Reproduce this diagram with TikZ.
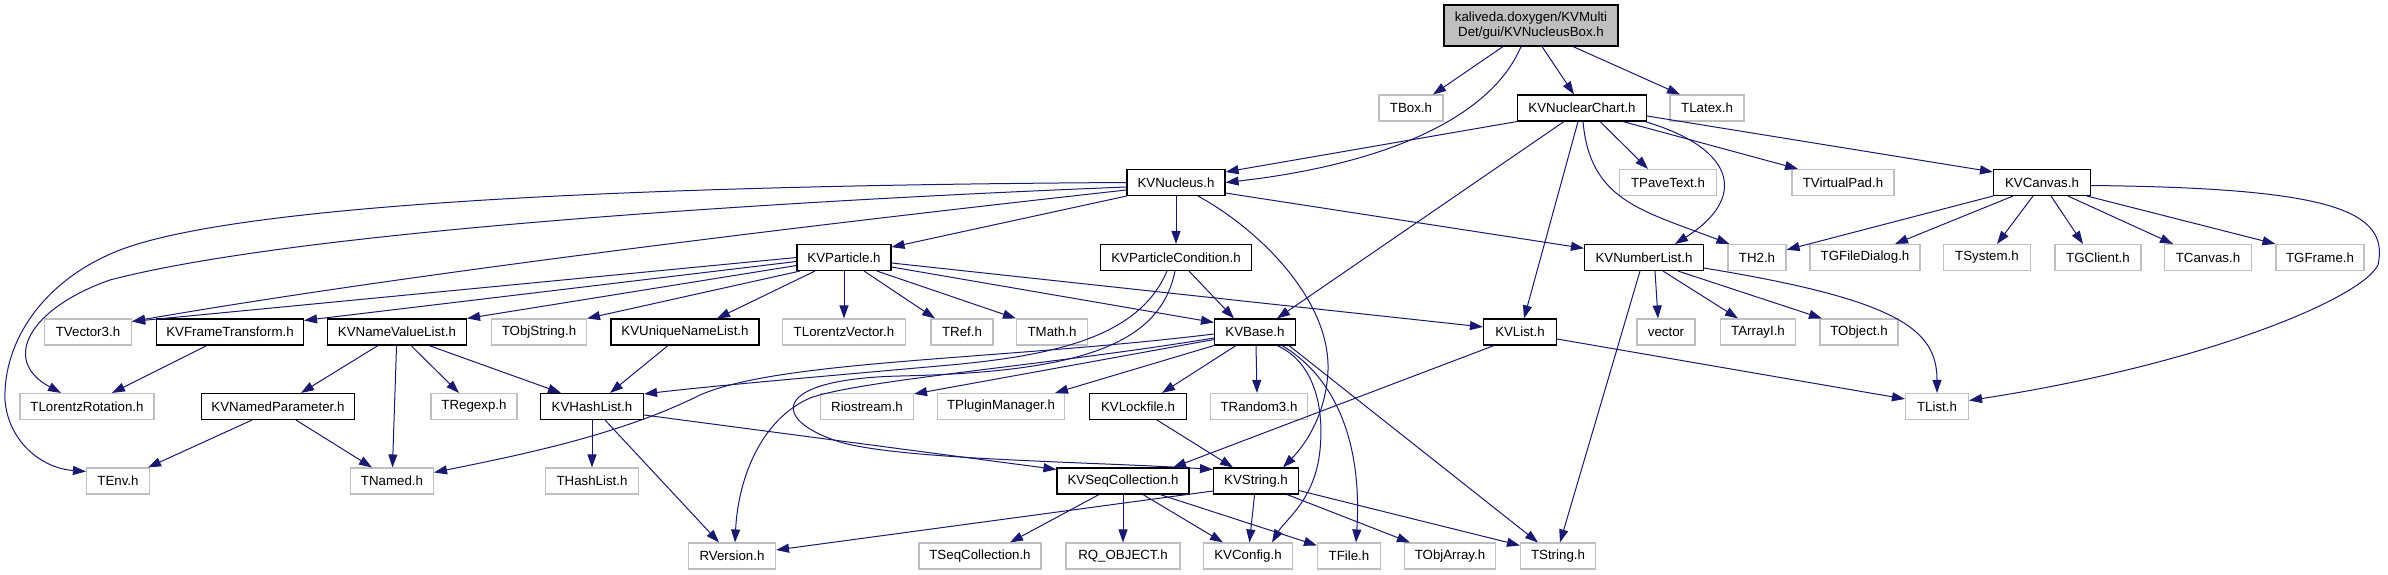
\documentclass[tikz,border=0pt]{standalone}
\usepackage{fontspec}
\setmainfont{Liberation Sans}
\usepackage{xcolor}
\usepackage{tikz}
\usetikzlibrary{arrows.meta}
\definecolor{depblue}{RGB}{25,25,112}
\definecolor{extgrey}{RGB}{191,191,191}

\begin{document}
\begin{tikzpicture}[
  x=1pt, y=-1pt,
  hdr/.style={draw, line width=1.1pt, minimum height=26pt, inner sep=0pt,
              align=center, font=\fontsize{13.3}{15.5}\selectfont},
  doc/.style={hdr, draw=black},
  ext/.style={hdr, draw=extgrey},
  mainfile/.style={hdr, draw=black, fill=extgrey, minimum height=41pt},
  dep/.style={-{Triangle[length=13pt,width=9pt]}, line width=1pt, color=depblue}
]
  \path[use as bounding box, fill=white] (0,0) rectangle (2388,575);

  \node[mainfile, minimum width=174pt] (root) at (1531,25.5) {kaliveda.doxygen/KVMulti\\Det/gui/KVNucleusBox.h};

  \node[ext, minimum width=64pt] (tbox) at (1411,108) {TBox.h};
  \node[doc, minimum width=129pt] (nuclchart) at (1582,108) {KVNuclearChart.h};
  \node[ext, minimum width=74pt] (tlatex) at (1707,108) {TLatex.h};

  \node[doc, minimum width=98pt] (nucleus) at (1176,182.5) {KVNucleus.h};
  \node[ext, minimum width=97pt] (tpavetext) at (1668,182.5) {TPaveText.h};
  \node[ext, minimum width=102pt] (tvirtualpad) at (1843,182.5) {TVirtualPad.h};
  \node[doc, minimum width=97pt] (kvcanvas) at (2042,182.5) {KVCanvas.h};

  \node[doc, minimum width=94pt] (particle) at (844,257.5) {KVParticle.h};
  \node[doc, minimum width=151pt] (partcond) at (1176,257.5) {KVParticleCondition.h};
  \node[doc, minimum width=119pt] (numlist) at (1644,257.5) {KVNumberList.h};
  \node[ext, minimum width=58pt] (th2) at (1757,257.5) {TH2.h};
  \node[ext, minimum width=110pt] (tgfiledialog) at (1865,257.5) {TGFileDialog.h};
  \node[ext, minimum width=87pt] (tsystem) at (1987,257.5) {TSystem.h};
  \node[ext, minimum width=86pt] (tgclient) at (2098,257.5) {TGClient.h};
  \node[ext, minimum width=87pt] (tcanvas) at (2208,257.5) {TCanvas.h};
  \node[ext, minimum width=88pt] (tgframe) at (2320,257.5) {TGFrame.h};

  \node[ext, minimum width=87pt] (tvector3) at (88,332) {TVector3.h};
  \node[doc, minimum width=147pt] (frametrans) at (230,332) {KVFrameTransform.h};
  \node[doc, minimum width=139pt] (namevaluelist) at (397,332) {KVNameValueList.h};
  \node[ext, minimum width=95pt] (tobjstring) at (539,332) {TObjString.h};
  \node[doc, minimum width=148pt] (uniquenamelist) at (685,332) {KVUniqueNameList.h};
  \node[ext, minimum width=123pt] (tlorentzvector) at (844,332) {TLorentzVector.h};
  \node[ext, minimum width=62pt] (tref) at (962,332) {TRef.h};
  \node[ext, minimum width=71pt] (tmath) at (1052,332) {TMath.h};
  \node[doc, minimum width=81pt] (kvbase) at (1255,332) {KVBase.h};
  \node[doc, minimum width=73pt] (kvlist) at (1520,332) {KVList.h};
  \node[ext, minimum width=58pt] (vector) at (1666,332) {vector};
  \node[ext, minimum width=75pt] (tarrayi) at (1758,332) {TArrayI.h};
  \node[ext, minimum width=78pt] (tobject) at (1859,332) {TObject.h};

  \node[ext, minimum width=134pt] (tlorentzrot) at (87,406.5) {TLorentzRotation.h};
  \node[doc, minimum width=153pt] (namedpar) at (278,406.5) {KVNamedParameter.h};
  \node[ext, minimum width=86pt] (tregexp) at (474,406.5) {TRegexp.h};
  \node[doc, minimum width=103pt] (hashlist) at (592,406.5) {KVHashList.h};
  \node[ext, minimum width=93pt] (riostream) at (867,406.5) {Riostream.h};
  \node[ext, minimum width=127pt] (tpluginmgr) at (1001,406.5) {TPluginManager.h};
  \node[doc, minimum width=97pt] (lockfile) at (1138,406.5) {KVLockfile.h};
  \node[ext, minimum width=97pt] (trandom3) at (1259,406.5) {TRandom3.h};
  \node[ext, minimum width=63pt] (tlist) at (1937,406.5) {TList.h};

  \node[ext, minimum width=63pt] (tenv) at (118,481) {TEnv.h};
  \node[ext, minimum width=83pt] (tnamed) at (392,481) {TNamed.h};
  \node[ext, minimum width=93pt] (thashlist) at (592,481) {THashList.h};
  \node[doc, minimum width=132pt] (seqcoll) at (1123,481) {KVSeqCollection.h};
  \node[doc, minimum width=85pt] (kvstring) at (1256,481) {KVString.h};

  \node[ext, minimum width=87pt] (rversion) at (732,556) {RVersion.h};
  \node[ext, minimum width=122pt] (tseqcoll) at (980,556) {TSeqCollection.h};
  \node[ext, minimum width=114pt] (rqobject) at (1123,556) {RQ\_OBJECT.h};
  \node[ext, minimum width=89pt] (kvconfig) at (1248,556) {KVConfig.h};
  \node[ext, minimum width=63pt] (tfile) at (1349,556) {TFile.h};
  \node[ext, minimum width=91pt] (tobjarray) at (1450,556) {TObjArray.h};
  \node[ext, minimum width=75pt] (tstring) at (1558,556) {TString.h};

  \draw[dep] ([xshift=-28pt]root.south) -- ([xshift=22pt]tbox.north);
  \draw[dep] ([xshift=-10pt]root.south) .. controls (1490,120) and (1380,165) .. (nucleus.east);
  \draw[dep] ([xshift=11pt]root.south) -- ([xshift=-8pt]nuclchart.north);
  \draw[dep] ([xshift=42pt]root.south) -- ([xshift=-27pt]tlatex.north);

  \draw[dep] (nuclchart.south west) -- ([yshift=-3pt]nucleus.north east);
  \draw[dep] ([xshift=18pt]nuclchart.south) -- ([xshift=-20pt]tpavetext.north);
  \draw[dep] ([xshift=41pt]nuclchart.south) -- ([xshift=-45pt]tvirtualpad.north);
  \draw[dep] ([yshift=-8pt]nuclchart.east) -- ([yshift=-3pt]kvcanvas.north west);
  \draw[dep] ([xshift=-18pt]nuclchart.south) -- ([xshift=22pt]kvbase.north);
  \draw[dep] ([xshift=-4pt]nuclchart.south) -- ([xshift=4pt]kvlist.north);
  \draw[dep] ([xshift=1pt]nuclchart.south) .. controls (1590,200) and (1640,210) .. ([xshift=2pt]th2.north west);
  \draw[dep] ([xshift=-2pt]nuclchart.south east) .. controls (1740,150) and (1745,200) .. ([xshift=31pt]numlist.north);

  \draw[dep] (kvcanvas.south west) -- (th2);
  \draw[dep] ([xshift=-29pt]kvcanvas.south) -- ([xshift=30pt]tgfiledialog.north);
  \draw[dep] ([xshift=-9pt]kvcanvas.south) -- ([xshift=10pt]tsystem.north);
  \draw[dep] ([xshift=9pt]kvcanvas.south) -- ([xshift=-15pt]tgclient.north);
  \draw[dep] ([xshift=26pt]kvcanvas.south) -- ([xshift=-35pt]tcanvas.north);
  \draw[dep] ([xshift=45pt]kvcanvas.south) -- (tgframe.north west);
  \draw[dep] ([yshift=-3pt]kvcanvas.east) .. controls (2330,188) and (2390,210) .. (2378,265)
    .. controls (2360,300) and (2200,365) .. ([yshift=6pt]tlist.east);

  \draw[dep] (nucleus.south west) -- (particle);
  \draw[dep] (nucleus) -- (partcond);
  \draw[dep] ([yshift=3pt]nucleus.south east) -- (numlist);
  \draw[dep] ([xshift=22pt]nucleus.south) .. controls (1260,230) and (1330,300) .. (1328,370)
    .. controls (1326,420) and (1300,450) .. ([xshift=27pt]kvstring.north);
  \draw[dep] ([yshift=-7.5pt]nucleus.west) .. controls (800,226) and (400,275) .. ([yshift=-3pt]tvector3.north east);
  \draw[dep] ([yshift=-4.5pt]nucleus.west) .. controls (800,200) and (300,230) .. (110,280)
    .. controls (30,308) and (0,360) .. ([xshift=-26pt]tlorentzrot.north);
  \draw[dep] (nucleus.west) .. controls (700,185) and (250,200) .. (120,250)
    .. controls (45,279) and (3,340) .. (5,400) .. controls (8,440) and (40,468) .. ([yshift=-4pt]tenv.north west);

  \draw[dep] (particle.west) -- ([yshift=-3pt]tvector3.north east);
  \draw[dep] ([yshift=-4pt]particle.west) -- ([yshift=-2pt]frametrans.north east);
  \draw[dep] ([yshift=-8pt]particle.west) -- (namevaluelist.north east);
  \draw[dep] ([xshift=-44pt]particle.south) -- ([xshift=48pt]tobjstring.north);
  \draw[dep] ([xshift=-29pt]particle.south) -- ([xshift=32pt]uniquenamelist.north);
  \draw[dep] (particle) -- (tlorentzvector);
  \draw[dep] ([xshift=20pt]particle.south) -- ([xshift=-27pt]tref.north);
  \draw[dep] ([xshift=33pt]particle.south) -- (tmath.north west);
  \draw[dep] ([yshift=-9.5pt]particle.east) -- ([yshift=-4pt]kvbase.north west);
  \draw[dep] ([yshift=-5.5pt]particle.east) -- ([yshift=-8.5pt]kvlist.north west);

  \draw[dep] ([xshift=13pt]partcond.south) -- ([xshift=-21pt]kvbase.north);
  \draw[dep] ([xshift=-9pt]partcond.south) .. controls (1140,335) and (1060,355) .. (950,365)
    .. controls (850,374) and (720,385) .. ([yshift=-1pt]hashlist.north east);
  \draw[dep] ([xshift=-1pt]partcond.south) .. controls (1160,345) and (1080,372) .. (900,376)
    .. controls (770,379) and (770,420) .. (840,442) .. controls (900,460) and (1100,462) .. ([yshift=-2pt]kvstring.north west);

  \draw[dep] ([yshift=-2pt]kvbase.west) .. controls (1000,360) and (780,360) .. (700,395)
    .. controls (620,435) and (520,455) .. ([yshift=-5pt]tnamed.north east);
  \draw[dep] ([yshift=-6pt]kvbase.west) .. controls (1050,365) and (860,380) .. (810,398)
    .. controls (760,420) and (738,480) .. ([xshift=3pt]rversion.north);
  \draw[dep] ([yshift=6pt]kvbase.south west) -- ([yshift=-1pt]riostream.north east);
  \draw[dep] (kvbase.south west) -- ([xshift=54pt]tpluginmgr.north);
  \draw[dep] ([xshift=-19pt]kvbase.south) -- ([xshift=24pt]lockfile.north);
  \draw[dep] ([xshift=1pt]kvbase.south) -- ([xshift=-2pt]trandom3.north);
  \draw[dep] ([xshift=22pt]kvbase.south) .. controls (1310,360) and (1325,400) .. (1320,450)
    .. controls (1315,500) and (1285,520) .. ([xshift=24pt]kvconfig.north);
  \draw[dep] ([xshift=27pt]kvbase.south) .. controls (1340,380) and (1362,450) .. ([xshift=7pt]tfile.north);
  \draw[dep] ([xshift=34pt]kvbase.south) -- ([xshift=-20pt]tstring.north);

  \draw[dep] ([yshift=-7pt]kvlist.east) -- ([yshift=7.5pt]tlist.west);
  \draw[dep] ([xshift=-26pt]kvlist.south) -- ([xshift=50pt]seqcoll.north);

  \draw[dep] ([xshift=11pt]numlist.south) -- ([xshift=-8pt]vector.north);
  \draw[dep] ([xshift=19pt]numlist.south) -- ([xshift=-20pt]tarrayi.north);
  \draw[dep] ([xshift=34pt]numlist.south) -- ([xshift=-37pt]tobject.north);
  \draw[dep] ([yshift=3pt]numlist.south east) .. controls (1900,300) and (1937,330) .. (tlist.north);
  \draw[dep] ([xshift=-4pt]numlist.south) -- ([xshift=2pt]tstring.north);

  \draw[dep] ([xshift=-19pt]namevaluelist.south) -- ([xshift=23pt]namedpar.north);
  \draw[dep] (namevaluelist) -- (tnamed);
  \draw[dep] ([xshift=14pt]namevaluelist.south) -- ([xshift=-15pt]tregexp.north);
  \draw[dep] ([xshift=32pt]namevaluelist.south) -- ([xshift=-31pt]hashlist.north);
  \draw[dep] ([xshift=-17pt]uniquenamelist.south) -- ([xshift=18pt]hashlist.north);
  \draw[dep] ([xshift=-23pt]frametrans.south) -- ([xshift=25pt]tlorentzrot.north);
  \draw[dep] ([xshift=-26pt]namedpar.south) -- ([xshift=30pt]tenv.north);
  \draw[dep] ([xshift=18pt]namedpar.south) -- ([xshift=-20pt]tnamed.north);

  \draw[dep] (hashlist) -- (thashlist);
  \draw[dep] ([xshift=13pt]hashlist.south) -- ([xshift=-13pt]rversion.north);
  \draw[dep] ([yshift=-8.5pt]hashlist.east) -- ([yshift=-2pt]seqcoll.north west);

  \draw[dep] ([xshift=19pt]lockfile.south) -- ([xshift=-23pt]kvstring.north);

  \draw[dep] ([xshift=-24pt]seqcoll.south) -- ([xshift=30pt]tseqcoll.north);
  \draw[dep] (seqcoll) -- (rqobject);
  \draw[dep] ([xshift=20pt]seqcoll.south) -- ([xshift=-25pt]kvconfig.north);
  \draw[dep] ([xshift=37pt]seqcoll.south) -- ([yshift=-3pt]tfile.north west);

  \draw[dep] ([yshift=-10pt]kvstring.west) -- ([yshift=6pt]rversion.east);
  \draw[dep] (kvstring) -- (kvconfig);
  \draw[dep] ([xshift=31pt]kvstring.south) -- ([xshift=-40pt]tobjarray.north);
  \draw[dep] ([yshift=4pt]kvstring.south east) -- ([yshift=-3pt]tstring.north west);
\end{tikzpicture}
\end{document}
